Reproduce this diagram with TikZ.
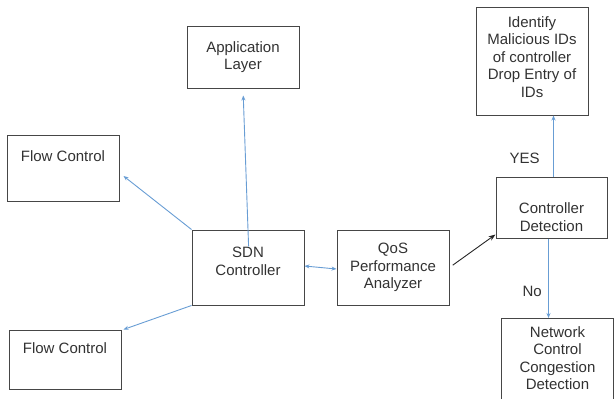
\documentclass[tikz,border=0pt]{standalone}
\usepackage{fontspec}
\setmainfont{Liberation Sans}
\usetikzlibrary{arrows.meta, positioning, calc}
\definecolor{linkblue}{RGB}{104,157,212}
\definecolor{boxgray}{RGB}{70,70,70}
\definecolor{textgray}{RGB}{50,50,50}

\begin{document}
\begin{tikzpicture}[x=1pt,y=-1pt,align=center,font=\fontsize{15pt}{17.5pt}\selectfont,text=textgray,>={Stealth[length=5pt,width=4pt]}]
\tikzstyle{block}=[rectangle,draw=boxgray,line width=1pt,minimum width=112pt,inner sep=0pt]
\tikzstyle{link}=[->,draw=linkblue,line width=0.9pt]
\tikzstyle{hit}=[->,draw=black!85,line width=0.9pt,>={Stealth[length=7pt,width=5pt]}]

\path[use as bounding box, clip] (0,0) rectangle (614,399);

\node[block, minimum height=62pt] (app) at (243,57) {Application\\Layer};
\node[block, minimum height=66pt, text depth=23pt] (flow1) at (63,168) {Flow Control};
\node[block, minimum height=59pt, text depth=23pt] (flow2) at (65,359.5) {Flow Control};
\node[block, minimum height=75pt, text depth=12pt] (sdn) at (248,267.5) {SDN\\Controller};
\node[block, minimum height=75pt] (qos) at (393,267.5) {QoS\\Performance\\Analyzer};
\node[block, minimum height=108pt, text depth=8pt] (ident) at (532,61) {Identify\\Malicious IDs\\of controller\\Drop Entry of\\IDs};
\node[block, minimum width=111pt, minimum height=61pt, text height=48pt] (ctrl) at (551.5,207.5) {Controller\\Detection};
\node[block, anchor=north, text height=71pt, text depth=60pt] (net) at (557.5,318) {Network\\Control\\Congestion\\Detection};

\path
  (sdn.north) edge[link, shorten <=-17pt, shorten >=7pt] (app.south)
  (sdn.north west) edge[link] ([xshift=4pt,yshift=-8pt]flow1.east)
  (sdn.south west) edge[link] ([xshift=2pt]flow2.north east)
  ([yshift=1.5pt]sdn.east) edge[link, <->] ([yshift=-1.5pt]qos.west)
  (qos.east) edge[hit, shorten <=4pt] ([yshift=4pt]ctrl.south west)
  ([xshift=2pt]ctrl.north) edge[link] node[pos=0.29, left=10pt] {YES} ([xshift=2pt]ctrl.north |- ident.south)
  ([xshift=-3pt]ctrl.south) edge[link] node[pos=0.66, left=3pt] {No} ([xshift=-3pt]ctrl.south |- net.north);
\end{tikzpicture}
\end{document}
